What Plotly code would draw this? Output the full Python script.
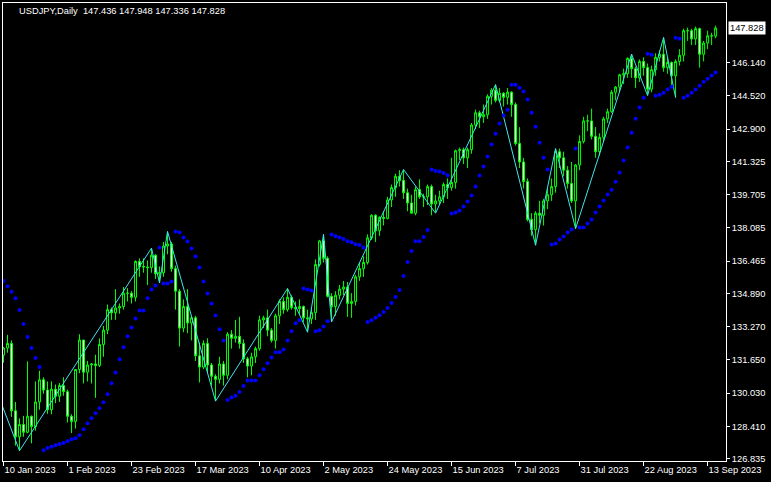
import pandas as pd
import plotly.graph_objects as go

# ---------------- data (USDJPY daily) ----------------
bar_dates = pd.bdate_range("2023-01-10", "2023-09-15")

opens = [131.88,132.23,132.45,129.17,127.90,128.50,128.12,128.90,128.40,129.60,
         130.68,130.18,129.22,130.22,129.88,130.40,130.10,128.90,128.65,131.18,
         132.62,131.05,131.40,131.45,131.38,132.40,133.10,134.10,133.95,134.18,
         134.25,134.90,134.90,134.70,136.45,136.20,136.18,136.15,136.75,135.85,
         135.90,137.20,137.30,136.10,135.00,133.20,134.25,133.45,133.70,131.85,
         131.30,132.45,131.40,130.85,130.70,131.45,130.90,132.90,132.70,132.80,
         132.45,131.70,131.35,131.80,132.20,133.60,133.70,133.10,132.60,133.80,
         134.50,134.10,134.70,134.20,134.15,134.25,133.70,133.65,133.95,136.30,
         137.45,136.60,134.75,134.25,134.80,135.10,135.20,134.40,134.50,135.70,
         136.10,136.40,137.60,138.70,137.95,138.60,138.55,139.45,140.05,140.60,
         140.40,139.80,139.30,138.80,139.95,139.60,139.60,140.10,139.25,139.40,
         139.60,140.20,140.05,140.30,141.85,141.90,141.50,141.90,143.10,143.70,
         143.50,143.60,144.50,144.80,144.30,144.65,144.45,144.70,144.10,142.20,
         141.30,140.35,138.50,138.00,138.80,138.70,139.40,139.70,140.10,141.80,
         141.50,140.90,140.25,139.40,141.15,142.30,143.30,143.30,142.55,141.80,
         142.50,143.40,143.75,144.70,144.95,145.55,145.60,146.35,145.85,145.40,
         146.20,145.90,144.85,145.80,146.40,146.55,145.90,146.15,145.50,146.20,
         146.50,147.70,147.70,147.30,147.80,146.55,147.10,147.45,147.436]
highs = [132.28,132.87,132.60,129.60,128.80,128.92,131.58,128.94,130.60,131.12,
         130.80,130.60,130.60,130.45,130.52,130.80,130.20,129.00,131.20,132.90,
         132.62,131.60,131.50,131.90,132.70,133.30,134.35,134.20,135.10,134.40,
         135.20,135.15,135.00,136.50,136.60,136.60,136.50,137.10,136.80,136.20,
         137.40,137.91,137.40,136.25,135.10,134.60,135.10,133.80,133.80,132.50,
         132.60,132.70,131.50,130.95,131.80,131.60,133.00,133.10,133.60,133.75,
         132.65,131.80,132.00,132.30,133.80,133.80,134.10,133.20,133.90,134.60,
         134.70,135.13,134.80,134.50,134.60,134.30,134.10,134.20,136.55,137.50,
         137.77,136.70,134.90,135.00,135.30,135.50,135.45,134.90,135.80,136.40,
         136.70,137.77,138.75,138.75,138.65,138.90,139.60,140.20,140.73,140.90,
         140.93,140.00,139.70,140.10,140.45,139.75,140.20,140.20,139.70,139.90,
         140.30,140.50,141.50,141.90,142.00,142.00,142.00,143.20,143.85,143.80,
         144.10,144.60,144.90,145.07,144.90,144.70,144.90,144.75,144.20,143.00,
         141.50,140.50,138.80,138.90,139.40,139.50,140.00,140.50,141.95,141.95,
         141.80,141.10,141.30,141.20,142.60,143.50,143.60,143.90,143.00,142.70,
         143.50,143.90,144.80,145.00,145.60,145.85,146.40,146.56,145.95,146.30,
         146.40,146.10,146.00,146.60,146.75,147.37,146.40,146.20,146.30,146.80,
         147.80,147.85,147.80,147.90,147.85,147.20,147.70,147.60,147.948]
lows = [131.51,132.00,128.87,127.47,127.22,127.90,128.07,127.58,128.20,129.22,
        130.00,129.02,129.00,129.54,129.60,129.90,128.60,128.08,128.30,131.00,
        130.50,130.60,130.50,129.80,131.30,131.80,132.90,133.60,133.60,133.90,
        134.10,134.50,134.40,134.50,135.70,135.90,135.30,135.90,135.60,135.40,
        135.70,136.80,135.95,134.10,132.30,133.00,132.95,132.60,131.60,130.55,
        131.20,131.00,130.40,129.64,130.50,130.40,130.70,132.20,132.50,132.20,
        131.50,130.80,130.90,131.50,132.10,133.20,132.80,132.50,132.20,133.40,
        133.90,134.00,134.10,133.80,133.90,133.50,133.00,133.40,133.60,136.20,
        136.40,134.70,133.50,133.80,134.60,134.80,133.75,133.70,134.30,135.50,
        135.70,136.30,137.50,137.40,137.70,138.20,138.50,139.10,139.60,140.10,
        139.50,138.90,138.95,138.70,139.50,139.10,139.20,138.70,138.85,139.20,
        139.30,139.50,139.90,140.00,141.40,141.20,141.00,141.70,142.90,142.95,
        143.20,143.40,144.10,144.20,144.20,144.00,144.10,143.50,142.10,141.00,
        140.00,138.40,137.70,137.24,138.30,138.20,139.00,139.40,139.80,141.00,
        140.60,140.00,139.30,138.05,140.90,142.20,142.80,142.40,141.50,141.60,
        142.30,143.20,143.70,144.30,144.70,145.10,145.40,145.40,144.90,145.20,
        145.50,144.54,144.70,145.50,146.20,145.70,145.60,144.98,144.44,146.00,
        146.20,147.20,147.00,147.00,145.90,146.20,146.80,147.00,147.336]
closes = [132.23,132.45,129.17,127.90,128.50,128.12,128.90,128.40,129.60,130.68,
          130.18,129.22,130.22,129.88,130.40,130.10,128.90,128.65,131.18,132.62,
          131.05,131.40,131.45,131.38,132.40,133.10,134.10,133.95,134.18,134.25,
          134.90,134.90,134.70,136.45,136.20,136.18,136.15,136.75,135.85,135.90,
          137.20,137.30,136.10,135.00,133.20,134.25,133.45,133.70,131.85,131.30,
          132.45,131.40,130.85,130.70,131.45,130.90,132.90,132.70,132.80,132.45,
          131.70,131.35,131.80,132.20,133.60,133.70,133.10,132.60,133.80,134.50,
          134.10,134.70,134.20,134.15,134.25,133.70,133.65,133.95,136.30,137.45,
          136.60,134.75,134.25,134.80,135.10,135.20,134.40,134.50,135.70,136.10,
          136.40,137.60,138.70,137.95,138.60,138.55,139.45,140.05,140.60,140.40,
          139.80,139.30,138.80,139.95,139.60,139.60,140.10,139.25,139.40,139.60,
          140.20,140.05,140.30,141.85,141.90,141.50,141.90,143.10,143.70,143.50,
          143.60,144.50,144.80,144.30,144.65,144.45,144.70,144.10,142.20,141.30,
          140.35,138.50,138.00,138.80,138.70,139.40,139.70,140.10,141.80,141.50,
          140.90,140.25,139.40,141.15,142.30,143.30,143.30,142.55,141.80,142.50,
          143.40,143.75,144.70,144.95,145.55,145.60,146.35,145.85,145.40,146.20,
          145.90,144.85,145.80,146.40,146.55,145.90,146.15,145.50,146.20,146.50,
          147.70,147.70,147.30,147.80,146.55,147.10,147.45,147.45,147.828]

# Parabolic SAR values per bar
sar = [135.50,135.24,134.97,134.66,134.08,133.40,132.77,132.23,131.74,131.30,
       127.25,127.35,127.42,127.49,127.55,127.60,127.68,127.78,127.83,127.97,
       128.27,128.56,128.80,129.05,129.29,129.58,129.97,130.51,131.04,131.68,
       132.26,132.80,133.23,133.67,134.06,134.06,134.65,135.08,135.28,137.13,
       135.38,135.38,135.47,137.91,137.86,137.62,137.42,137.08,136.69,136.16,
       135.47,134.89,134.40,133.82,133.14,132.60,129.69,129.81,129.90,130.08,
       130.38,130.65,130.65,130.65,130.90,131.19,131.48,131.77,132.02,132.02,
       132.16,132.60,133.04,133.43,133.58,135.13,135.08,135.03,133.04,133.09,
       133.28,133.53,137.76,137.68,137.62,137.54,137.44,137.39,137.29,137.25,
       137.13,133.50,133.58,133.70,133.83,133.98,134.18,134.42,134.72,135.06,
       135.74,136.42,136.96,137.44,137.44,137.64,137.98,140.93,140.86,140.83,
       140.76,140.65,138.79,138.84,138.93,139.13,139.37,139.66,140.10,140.64,
       141.08,141.56,142.15,142.68,143.17,143.56,143.85,145.07,145.07,144.92,
       144.73,144.34,143.70,143.02,142.24,141.51,140.93,137.28,137.33,137.52,
       137.67,137.86,138.01,141.95,138.10,138.10,138.30,138.49,138.83,139.13,
       139.42,139.71,139.95,140.34,140.78,141.37,142.00,142.73,143.41,143.95,
       144.43,146.58,146.53,144.53,144.58,144.68,144.83,144.97,147.36,147.31,
       144.43,144.53,144.68,144.83,145.02,145.21,145.36,145.51,145.66]

# ZigZag pivots: bar number (0 = 10 Jan 2023) and price
zz_bar = [-6, 4, 37, 39, 41, 53, 71, 76, 80, 82, 100, 108, 123, 133, 138, 143, 157, 161, 165, 168]
zz_price = [132.30, 127.22, 137.10, 135.40, 137.91, 129.64, 135.13, 133.00, 137.77, 133.50,
            140.93, 138.80, 145.07, 137.24, 141.95, 138.05, 146.56, 144.54, 147.37, 144.44]

x_tick_dates = ["2023-01-10", "2023-02-01", "2023-02-23", "2023-03-17", "2023-04-10", "2023-05-02",
                "2023-05-24", "2023-06-15", "2023-07-07", "2023-07-31", "2023-08-22", "2023-09-13"]
x_tick_labels = ["10 Jan 2023", "1 Feb 2023", "23 Feb 2023", "17 Mar 2023", "10 Apr 2023", "2 May 2023",
                 "24 May 2023", "15 Jun 2023", "7 Jul 2023", "31 Jul 2023", "22 Aug 2023", "13 Sep 2023"]
y_tick_values = [146.140, 144.520, 142.900, 141.325, 139.705, 138.085, 136.465,
                 134.890, 133.270, 131.650, 130.030, 128.410, 126.835]

title_text = "USDJPY,Daily  147.436 147.948 147.336 147.828"
last_price = 147.828

# ---------------- figure ----------------
bars = list(range(len(bar_dates)))
date_str = [d.strftime("%Y-%m-%d") for d in bar_dates]
tick_pos = [date_str.index(d) for d in x_tick_dates]

FONT = "Liberation Sans"
LIME = "#00ff00"

fig = go.Figure()
fig.add_trace(go.Candlestick(
    x=bars, open=opens, high=highs, low=lows, close=closes,
    increasing=dict(line=dict(color=LIME, width=1), fillcolor="black"),
    decreasing=dict(line=dict(color=LIME, width=1), fillcolor="white"),
    whiskerwidth=0, hoverinfo="skip", showlegend=False))
fig.add_trace(go.Scatter(
    x=zz_bar, y=zz_price, mode="lines",
    line=dict(color="#40e4f0", width=1), hoverinfo="skip", showlegend=False))
fig.add_trace(go.Scatter(
    x=bars, y=sar, mode="markers",
    marker=dict(color="#0000ff", size=4, line=dict(width=0)),
    hoverinfo="skip", showlegend=False))

fig.update_layout(
    width=771, height=482,
    margin=dict(l=3, r=45, t=3, b=21),
    paper_bgcolor="black", plot_bgcolor="black",
    font=dict(family=FONT, size=9.3, color="white"),
    showlegend=False,
    hovermode=False,
    xaxis=dict(
        range=[-0.125, 180.6], showgrid=False, zeroline=False,
        rangeslider=dict(visible=False),
        showline=True, linecolor="white", linewidth=1, mirror=True,
        ticks="outside", ticklen=4, tickcolor="white", tickwidth=1,
        tickvals=tick_pos, ticktext=x_tick_labels,
        ticklabelposition="outside right",
        tickfont=dict(family=FONT, size=9.3, color="white"),
    ),
    yaxis=dict(
        range=[126.72, 149.05], side="right", showgrid=False, zeroline=False,
        showline=True, linecolor="white", linewidth=1, mirror=True,
        ticks="outside", ticklen=3, tickcolor="white", tickwidth=1,
        tickvals=y_tick_values, ticktext=[f"{v:.3f}" for v in y_tick_values],
        tickfont=dict(family=FONT, size=9.3, color="white"),
    ),
)

fig.add_annotation(
    text=title_text, xref="paper", yref="paper", x=0, y=1,
    xanchor="left", yanchor="middle", xshift=14, yshift=-8,
    showarrow=False, font=dict(family=FONT, size=9.3, color="white"))
fig.add_annotation(
    text=f"{last_price:.3f}", xref="paper", yref="y", x=1, y=last_price,
    xanchor="left", yanchor="middle", xshift=2, showarrow=False,
    bgcolor="white", borderpad=1, font=dict(family=FONT, size=9.3, color="black"))

fig.write_html(
    "out.html",
    config={"displayModeBar": False, "staticPlot": True},
    post_script="document.body.style.margin='0';document.body.style.overflow='hidden';",
)
